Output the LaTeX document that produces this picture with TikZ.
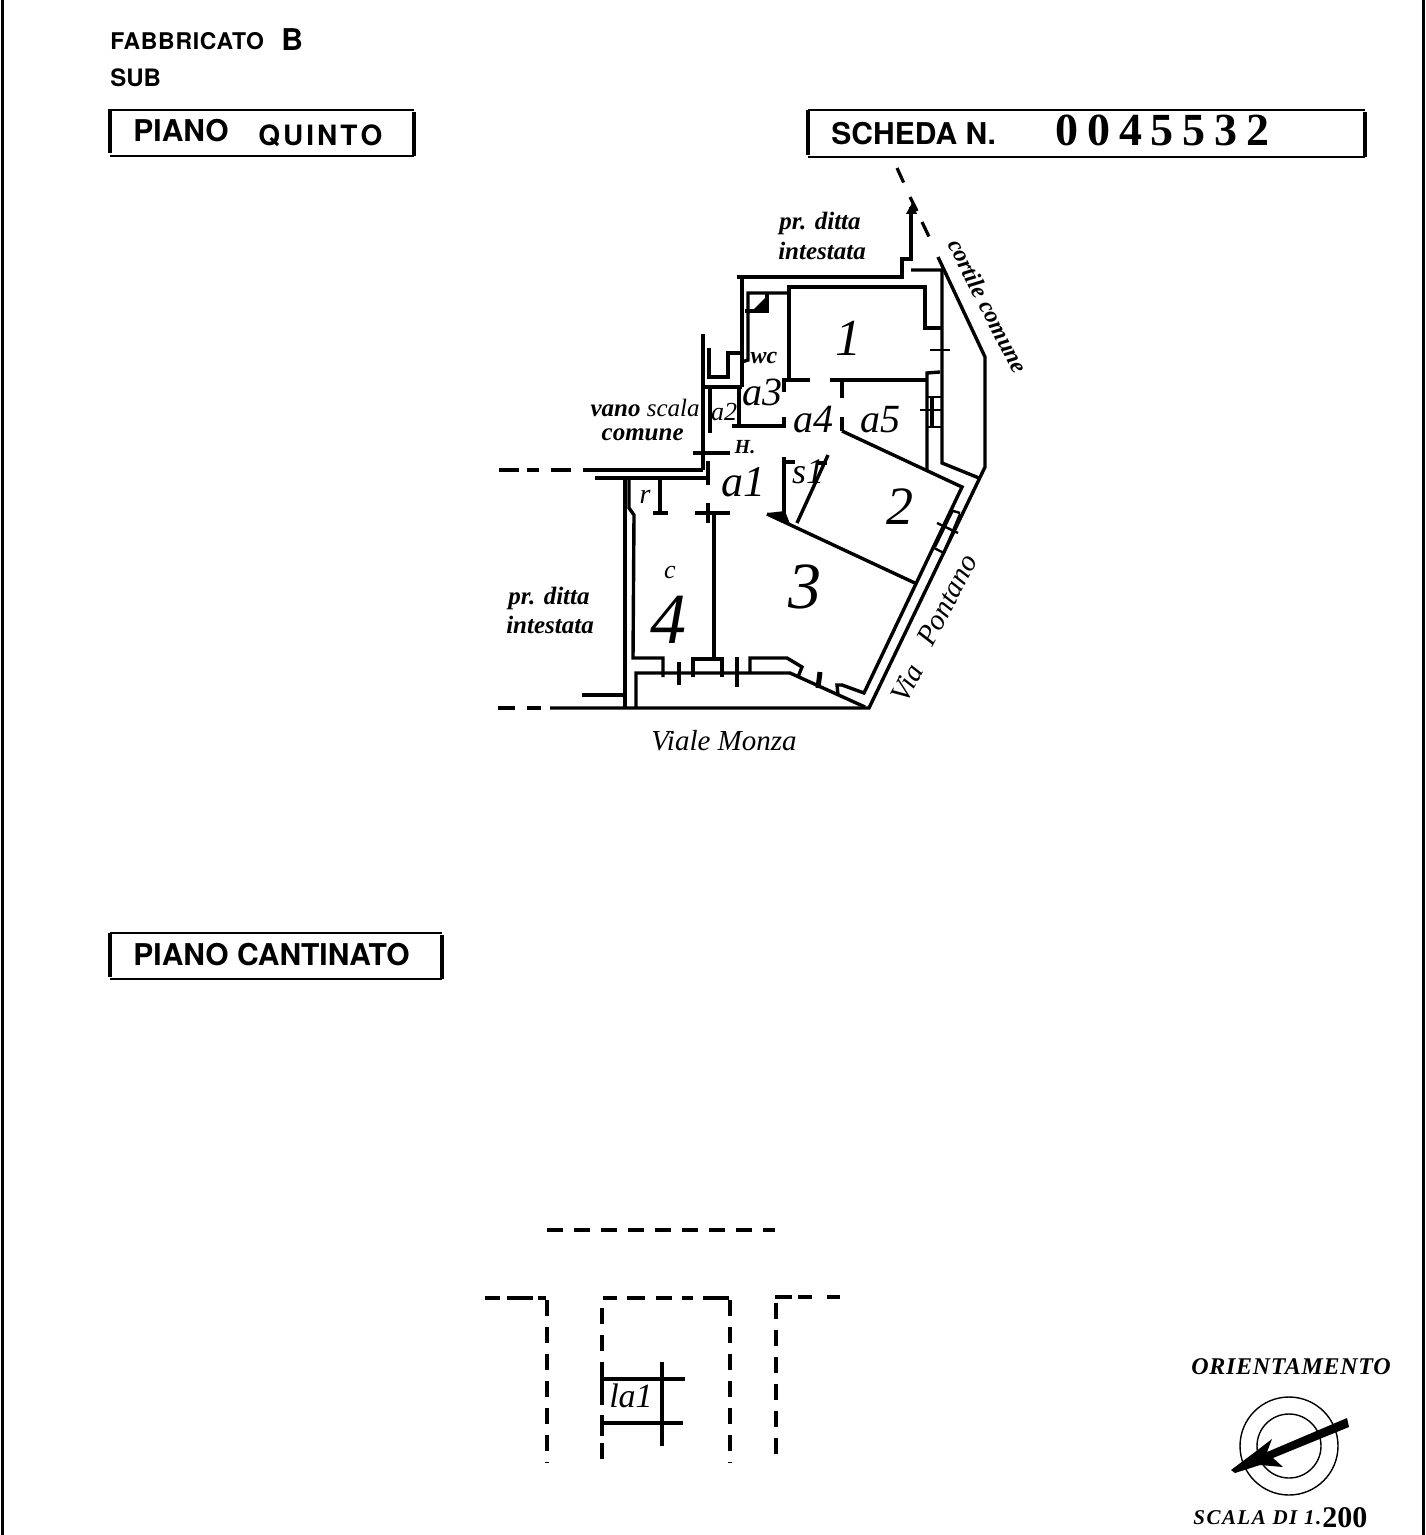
\documentclass[tikz,border=0pt]{standalone}
\usepackage{fontspec}
\setsansfont{TeX Gyre Heros}
\setmainfont{Liberation Serif}
\usetikzlibrary{positioning}
\tikzset{
Muro/.style={
 draw=black,
 line width=1.7pt
 },
Sottile/.style={
 draw=black,
 line width=1.2pt
 },
Tratteggio/.style={
 draw=black,
 line width=1.6pt,
 dash pattern=on 8pt off 5.5pt
 },
Cornice/.style={
 draw=black,
 line width=0.8pt
 },
Titolo/.style={
 font=\sffamily\bfseries\fontsize{13}{15}\selectfont,
 inner sep=0pt,
 anchor=west
 },
Stampato/.style={
 font=\rmfamily\bfseries\itshape\fontsize{12.5}{14}\selectfont,
 inner sep=0pt
 },
Strada/.style={
 font=\rmfamily\itshape\fontsize{14.5}{16}\selectfont,
 inner sep=0pt
 },
Mano/.style={
 font=\rmfamily\itshape\fontsize{#1}{#1}\selectfont,
 inner sep=0pt
 },
Mano/.default={13}
}
\begin{document}
\begin{tikzpicture}[x=0.5pt,y=-0.5pt]
\useasboundingbox (0,0) rectangle (1425,1535);
% bordi del foglio
\draw[line width=1.5pt] (2,0) -- (2,1535);
\draw[line width=1.5pt] (1423,0) -- (1423,1535);
% intestazioni
\node[Titolo,font=\sffamily\bfseries\fontsize{11.5}{15}\selectfont\addfontfeature{LetterSpace=3}] (fabbricato) at (110,41) {FABBRICATO};
\node[Titolo,font=\sffamily\bfseries\fontsize{15}{15}\selectfont] (lettera) at (281,40) {B};
\node[Titolo,font=\sffamily\bfseries\fontsize{12}{15}\selectfont] (sub) at (110,78) {SUB};
\draw[Cornice] (110,110) -- (414,110) (110,156) -- (414,156);
\draw[Muro] (110,109) -- (110,153) (414,112) -- (414,156);
\node[Titolo,font=\sffamily\bfseries\fontsize{15}{15}\selectfont] (piano) at (133,131) {PIANO};
\node[Titolo,font=\sffamily\bfseries\fontsize{14}{15}\selectfont,text width=62pt,align=left] (quinto) at (258,136) {Q\hfill U\hfill I\hfill N\hfill T\hfill O};
\draw[Cornice] (808,110) -- (1365,110) (808,157) -- (1365,157);
\draw[Muro] (808,110) -- (808,155) (1365,112) -- (1365,157);
\node[Titolo,font=\sffamily\bfseries\fontsize{15}{15}\selectfont] (scheda) at (831,134) {SCHEDA N.};
\node[Titolo,font=\rmfamily\bfseries\fontsize{23}{23}\selectfont,text width=107pt] (numero) at (1055,130) {0\hfill 0\hfill 4\hfill 5\hfill 5\hfill 3\hfill 2};
\draw[Cornice] (110,933) -- (442,933) (110,979) -- (442,979);
\draw[Muro] (110,933) -- (110,977) (442,935) -- (442,979);
\node[Titolo,font=\sffamily\bfseries\fontsize{15}{15}\selectfont] (cantinato) at (133,955) {PIANO CANTINATO};
% perimetro
\draw[Muro] (737,277) -- (902,277) -- (902,259) -- (911,259) -- (911,207);
\fill (912,203) -- (906,214) -- (917,214) -- cycle;
\draw[Muro] (911,270) -- (942,270) -- (942,463) -- (979,478);
\draw[Muro] (938,257) -- (985,357) -- (985,467) -- (869,708) -- (550,708);
\draw[Tratteggio,dash pattern=on 8.5pt off 6pt on 7pt off 4.5pt] (498,708) -- (550,708);
\draw[Tratteggio] (897,168) -- (907,190) (910,197) -- (917,211) (922,222) -- (932,243);
\draw[Tratteggio,dash pattern=on 10pt off 4pt on 6pt off 6pt on 10pt off 6pt] (499,470) -- (585,470);
\draw[Muro] (585,470) -- (703,470);
\draw[Muro] (595,478) -- (708,478);
\draw[Muro] (708,461) -- (708,485);
% stanza 1
\draw[Muro] (789,380) -- (789,287) -- (925,287) -- (925,328) -- (941,328);
\draw[Muro] (784,380) -- (810,380) (830,380) -- (927,380);
\draw[Muro] (940,372) -- (927,373) -- (927,470);
\draw[Sottile] (930,350) -- (950,350);
\draw[Muro] (842,380) -- (842,398) (842,417) -- (842,431);
\draw[Muro] (784,378) -- (784,392) (784,417) -- (784,426) -- (732,426);
\draw[Sottile] (927,397) -- (941,397) (927,427) -- (941,427) (920,410) -- (942,410);
\draw[Muro] (932,397) -- (932,427);
% bagno e scala
\draw[Muro] (742,277) -- (742,387);
\draw[Muro] (789,293) -- (748,293) -- (748,360) -- (742,362);
\draw[Muro] (745,311) -- (767,311) -- (767,293);
\fill (767,296) -- (767,311) -- (752,311) -- cycle;
\draw[Muro] (742,353) -- (728,353) -- (728,377) -- (707,377);
\draw[Muro] (709,348) -- (709,377);
\draw[Muro] (703,334) -- (703,470);
\draw[Muro] (703,387) -- (742,387);
\draw[Muro] (710,387) -- (710,433) (739,387) -- (739,425);
\draw[Muro] (693,453) -- (730,453);
% stanze 2 e 3
\draw[Muro] (842,431) -- (962,487) -- (864,693) -- (842,685);
\draw[Muro] (767,514) -- (917,584);
\draw[Muro] (828,455) -- (797,523);
\draw[Muro] (784,457) -- (784,523) (784,462) -- (795,462) (817,463) -- (827,463);
\fill (767,513) -- (785,511) -- (790,524) -- cycle;
% finestra via Pontano
\draw[Sottile] (937,523) -- (958,533) (934,548) -- (944,553) (950,510) -- (960,513);
\draw[Sottile] (935,547) -- (953,510) (944,552) -- (960,514);
% stanza 4
\draw[Muro] (625,477) -- (625,708);
\draw[Muro] (629,478) -- (629,508) -- (634,515) -- (633,658) -- (663,658) -- (663,677);
\draw[Muro] (660,478) -- (660,513) (653,513) -- (668,513) (695,513) -- (730,513);
\draw[Muro] (708,503) -- (708,523) (714,515) -- (714,658);
\draw[Muro] (636,708) -- (636,673) -- (790,673) -- (865,707);
\draw[Muro] (679,662) -- (679,685) (737,657) -- (737,687);
\draw[Muro] (693,677) -- (693,659) -- (722,659) -- (722,677);
\draw[Muro] (750,673) -- (750,658) -- (787,658) -- (802,667) -- (798,677);
\draw[line width=2.5pt] (820,672) -- (818,688);
\draw[Muro] (843,685) -- (837,685) -- (838,695);
\draw[Muro] (582,695) -- (625,695);
% etichette
\node[Stampato] (ditta1) at (820,223) {pr. ditta};
\node[Stampato] (intestata1) at (822,251) {intestata};
\node[Stampato,anchor=east] (vano) at (700,408) {vano \textmd{scala}};
\node[Stampato,anchor=east] (comune) at (684,435) {comune};
\node[Stampato] (ditta2) at (549,598) {pr. ditta};
\node[Stampato] (intestata2) at (550,625) {intestata};
\node[Stampato,rotate=-63,font=\rmfamily\bfseries\itshape\fontsize{12}{14}\selectfont] (cortile) at (988,306) {cortile comune};
\node[Strada] (monza) at (724,741) {Viale Monza};
\node[Strada,rotate=62] (via) at (907,683) {Via};
\node[Strada,rotate=62] (pontano) at (947,600) {Pontano};
\node[Mano=26] (uno) at (848,338) {1};
\node[Mano=27] (due) at (900,507) {2};
\node[Mano=33] (tre) at (805,587) {3};
\node[Mano=36] (quattro) at (668,620) {4};
\node[Mano=13] (c) at (670,572) {c};
\node[Mano=22] (a1) at (743,482) {a1};
\node[Mano=13] (a2) at (724,412) {a2};
\node[Mano=20] (a3) at (762,392) {a3};
\node[Mano=20] (a4) at (813,420) {a4};
\node[Mano=20] (a5) at (880,420) {a5};
\node[Mano=18] (s1) at (808,472) {s1};
\node[Mano=14] (r) at (645,497) {r};
\node[Mano=12,font=\rmfamily\bfseries\itshape\fontsize{12}{12}\selectfont] (wc) at (764,358) {wc};
\node[Mano=10,font=\rmfamily\bfseries\itshape\fontsize{10}{10}\selectfont] (h) at (745,447) {H.};
% cantinato
\draw[Tratteggio] (547,1230) -- (775,1230);
\draw[Tratteggio,dash pattern=on 7.5pt off 3.5pt on 13pt off 2.5pt on 4pt] (485,1298) -- (546,1298);
\draw[Tratteggio] (547,1300) -- (547,1463);
\draw[Tratteggio,dash pattern=on 7pt off 5pt on 9pt off 5.5pt on 8pt off 5pt on 5.5pt off 5pt on 13pt] (603,1298) -- (729,1298);
\draw[Tratteggio] (730,1300) -- (730,1463);
\draw[Tratteggio] (602,1308) -- (602,1459);
\draw[Tratteggio,dash pattern=on 8.5pt off 3pt on 7pt off 7.5pt on 6.5pt] (775,1297) -- (840,1297);
\draw[Tratteggio] (776,1303) -- (776,1463);
\draw[Muro] (602,1362) -- (602,1392) (602,1415) -- (602,1436);
\draw[Muro] (600,1379) -- (685,1379) (603,1423) -- (683,1423) (662,1362) -- (662,1446);
\node[Mano=17] (la1) at (631,1396) {la1};
% orientamento
\node[Stampato,font=\rmfamily\bfseries\itshape\fontsize{12}{13}\selectfont\addfontfeature{LetterSpace=3}] (orient) at (1291,1367) {ORIENTAMENTO};
\draw[line width=0.7pt] (1289,1446) circle (49) (1289,1446) circle (32);
\fill (1347,1418) -- (1349,1427) -- (1273,1458) -- (1283,1467) -- (1260,1465) -- (1235,1473) -- (1231,1470) -- (1255,1452) -- (1272,1439) -- (1267,1452) -- cycle;
\node[Stampato,anchor=west,font=\rmfamily\bfseries\itshape\fontsize{10.5}{12}\selectfont\addfontfeature{LetterSpace=7}] (scala) at (1193,1518) {SCALA DI 1.};
\node[Stampato,anchor=west,font=\rmfamily\bfseries\fontsize{15}{12}\selectfont] (duecento) at (1322,1518) {200};
\end{tikzpicture}
\end{document}
